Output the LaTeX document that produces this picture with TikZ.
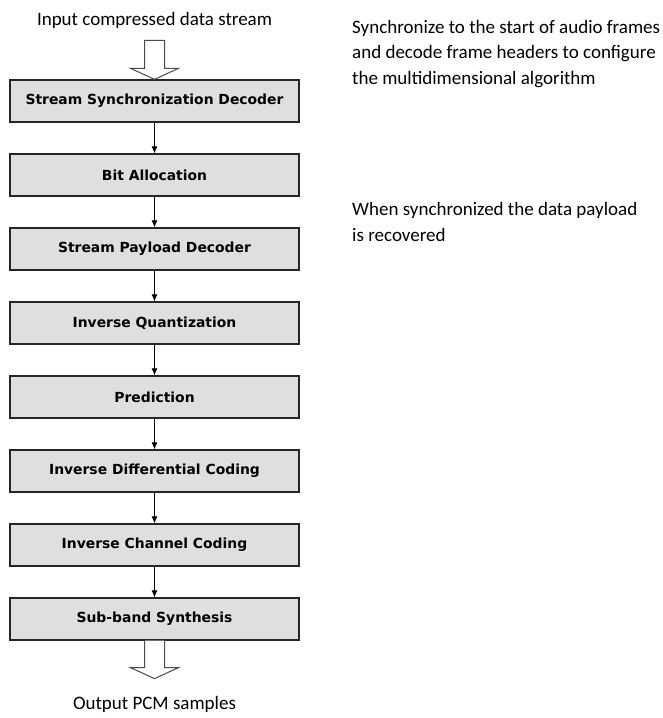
\documentclass[tikz,border=0pt]{standalone}
\usepackage{fontspec}
\setmainfont{Carlito}
\newfontfamily\blockfont{DejaVu Sans}
\usetikzlibrary{arrows.meta}
\tikzset{
  blk/.style={draw=black!85, line width=1.3pt, fill=gray!25, minimum width=289pt,
    minimum height=42pt, inner sep=0pt, font=\blockfont\bfseries\fontsize{13.9}{16}\selectfont},
  note/.style={anchor=base west, align=left, inner sep=0pt,
    font=\fontsize{19}{25.5}\selectfont},
  hollow/.style={draw=black!70, line width=1pt, fill=white, line join=miter}
}
\begin{document}
\begin{tikzpicture}[x=1pt,y=-1pt]
\useasboundingbox (0,0) rectangle (663,718);
% blocks
\foreach \n/\t [count=\i] in {ssd/Stream Synchronization Decoder, ba/Bit Allocation,
  spd/Stream Payload Decoder, iq/Inverse Quantization, pr/Prediction,
  idc/Inverse Differential Coding, icc/Inverse Channel Coding, sbs/Sub-band Synthesis}
  \node[blk] (\n) at (154.5,{101+74*(\i-1)}) {\t};
\foreach \a/\b in {ssd/ba, ba/spd, spd/iq, iq/pr, pr/idc, idc/icc, icc/sbs}
  \draw[-{Latex[length=7pt,width=6pt]}, line width=0.8pt] (\a) -- (\b);
% input and output
\node[anchor=base, inner sep=0pt, font=\fontsize{19}{22}\selectfont] (inp) at (154.5,25) {Input compressed data stream};
\node[anchor=base, inner sep=0pt, font=\fontsize{19}{22}\selectfont] (outp) at (154.5,709) {Output PCM samples};
\draw[hollow] (ssd.north) -- ++(-24,-11) -- ++(14,0) -- ++(0,-28) -- ++(20,0)
  -- ++(0,28) -- ++(14,0) -- cycle;
\draw[hollow] (sbs.south) ++(-10,0) -- ++(0,27) -- ++(-14,0) -- ++(24,11)
  -- ++(24,-11) -- ++(-14,0) -- ++(0,-27);
% notes
\node[note] (n1) at (352,84) {Synchronize to the start of audio frames\\
  and decode frame headers to configure\\ the multidimensional algorithm};
\node[note] (n2) at (352,241) {When synchronized the data payload\\ is recovered};
\end{tikzpicture}
\end{document}
